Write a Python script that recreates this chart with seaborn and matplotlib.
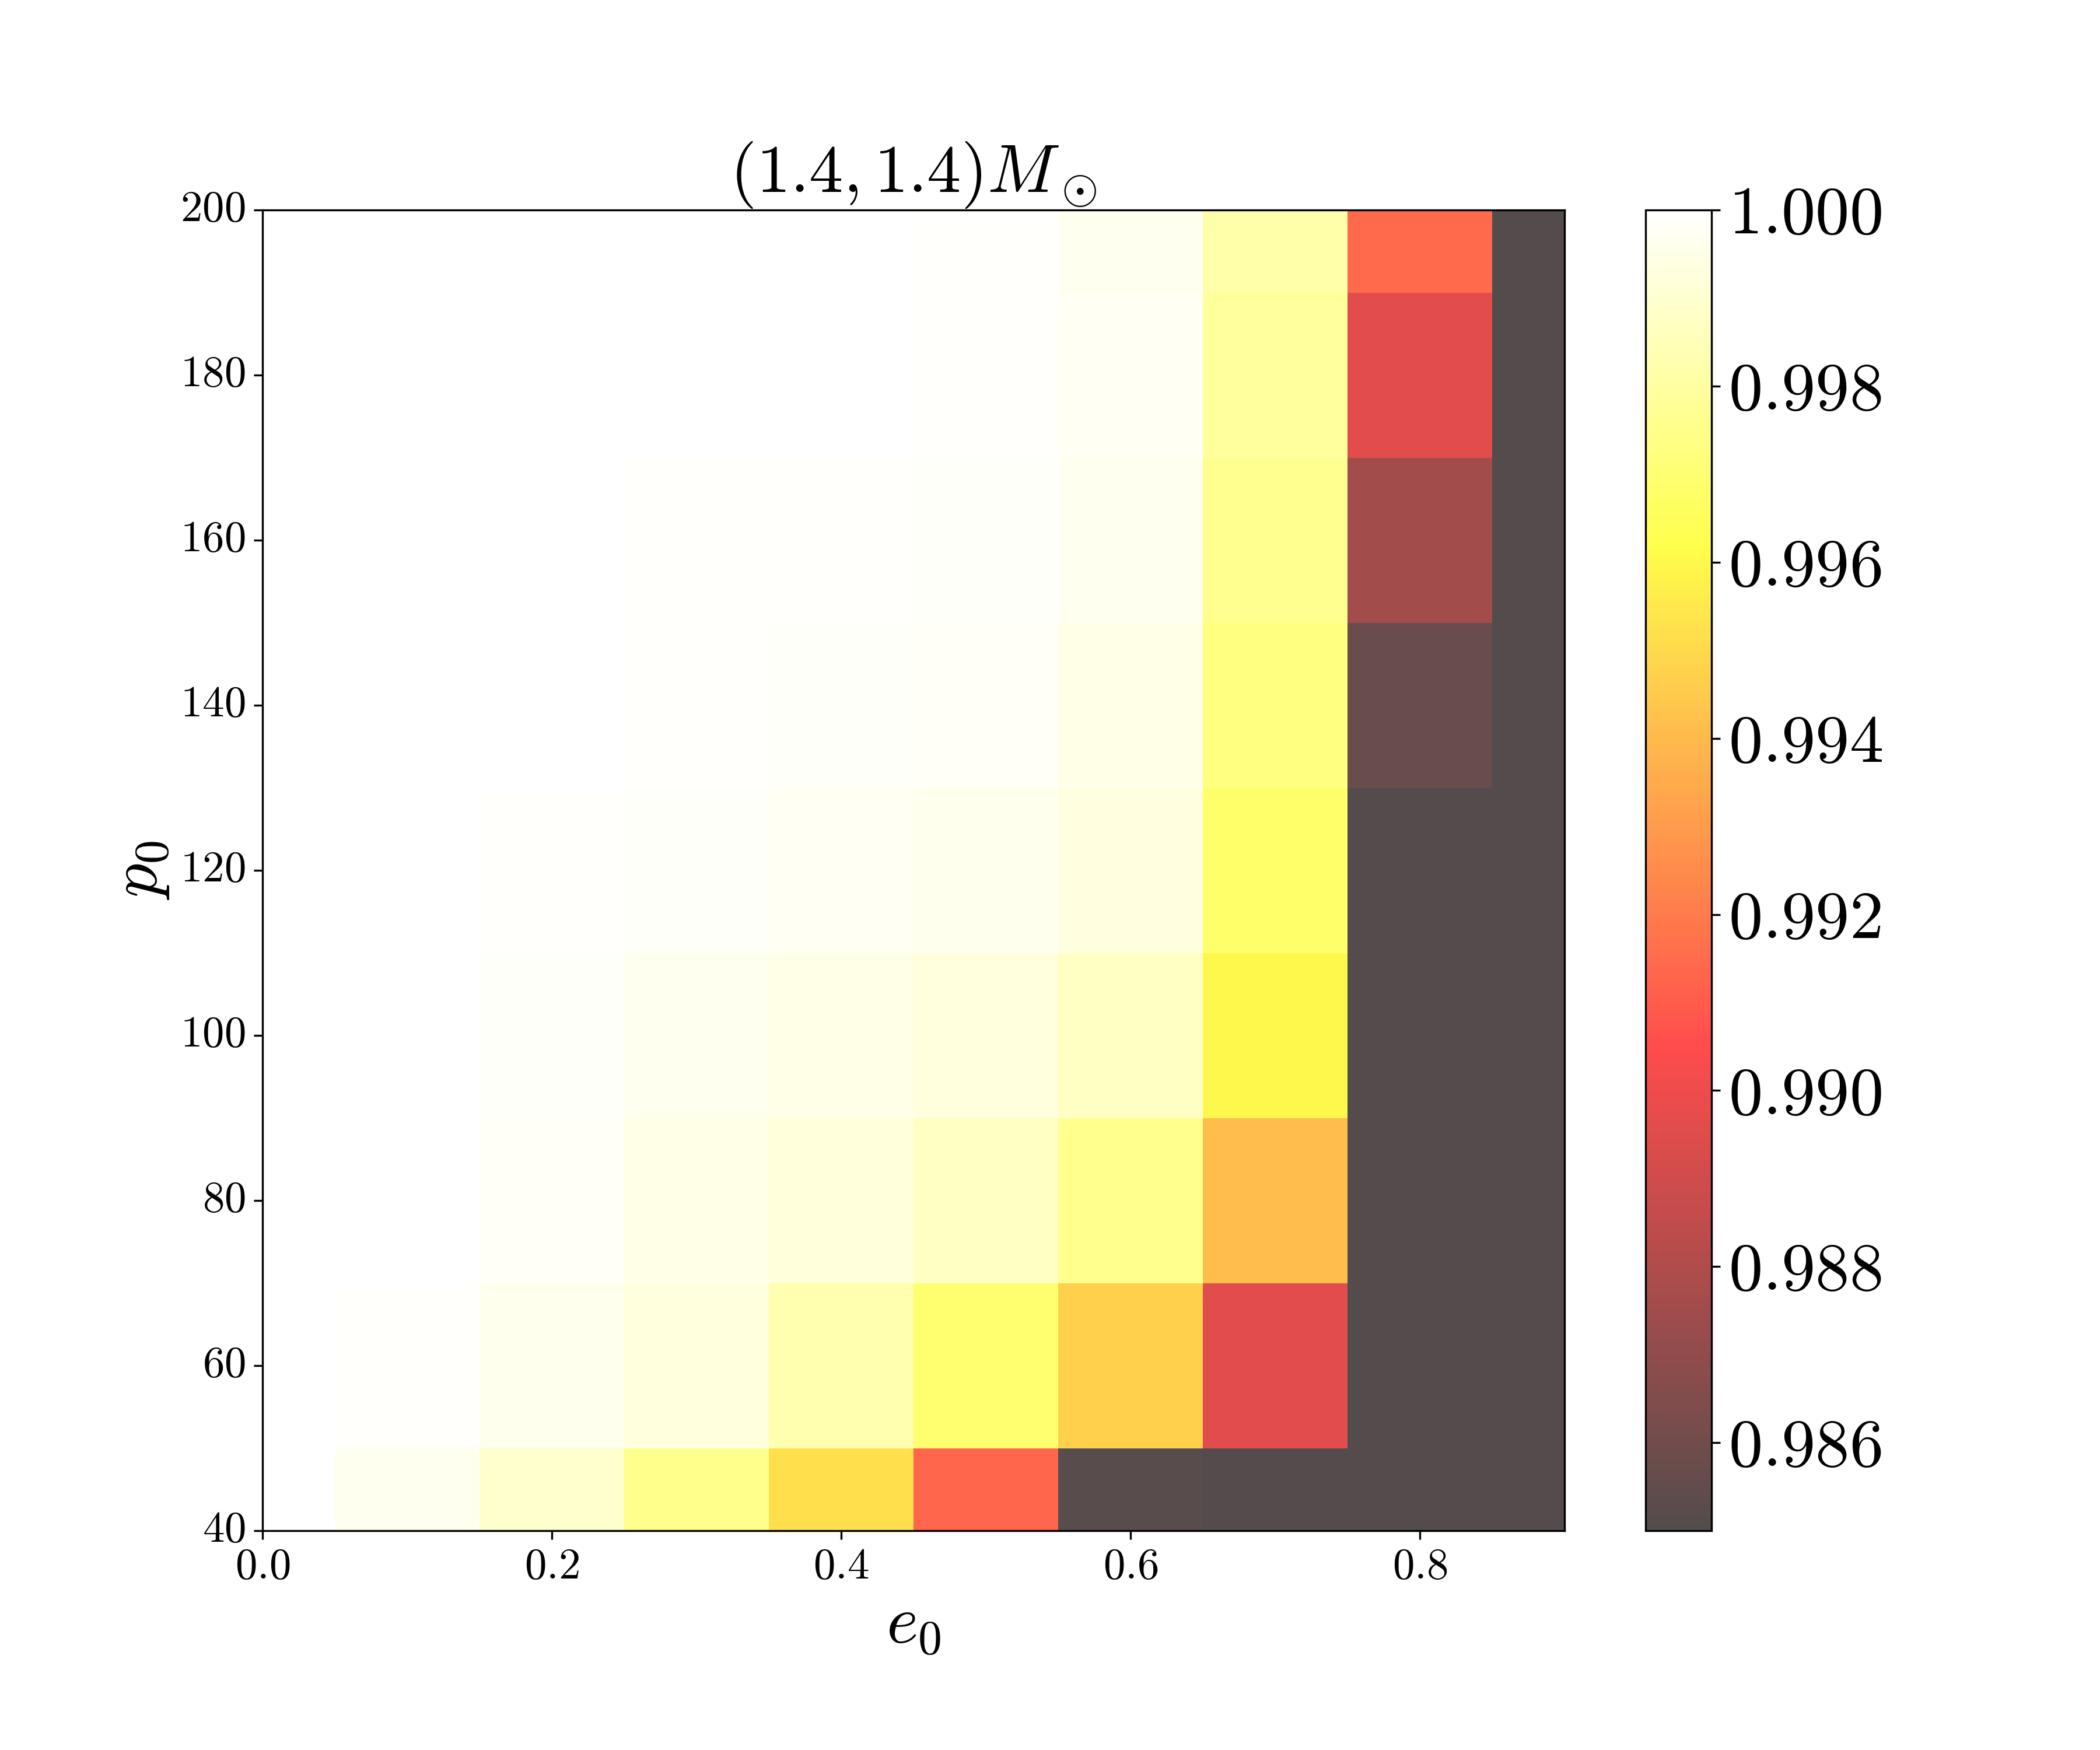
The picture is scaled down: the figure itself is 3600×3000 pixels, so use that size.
import numpy as np
import pandas as pd
import matplotlib
matplotlib.use("Agg")
import matplotlib.pyplot as plt
import seaborn as sns

# grid of initial eccentricity / semi-latus rectum
e0 = [0.0, 0.1, 0.2, 0.3, 0.4, 0.5, 0.6, 0.7, 0.8, 0.9]
p0 = [40, 60, 80, 100, 120, 140, 160, 180, 200]

# match values per p0 row (values below 0.985 saturate to the darkest colour)
match_p40 = [1.0, 0.99970, 0.99890, 0.99750, 0.99520, 0.99130, 0.98522, 0.9800, 0.9800, 0.9800]
match_p60 = [1.0, 0.99990, 0.99960, 0.99925, 0.99830, 0.99690, 0.99469, 0.98958, 0.9800, 0.9800]
match_p80 = [1.0, 0.99998, 0.99980, 0.99950, 0.99918, 0.99876, 0.99755, 0.99414, 0.9800, 0.9800]
match_p100 = [1.0, 0.99996, 0.99985, 0.99970, 0.99950, 0.99925, 0.99876, 0.99600, 0.9800, 0.9800]
match_p120 = [1.0, 0.99998, 0.99990, 0.99985, 0.99975, 0.99960, 0.99930, 0.99682, 0.9800, 0.9800]
match_p140 = [1.0, 1.0, 0.99998, 0.99990, 0.99988, 0.99980, 0.99950, 0.99730, 0.98574, 0.9800]
match_p160 = [1.0, 1.0, 0.99999, 0.99993, 0.99990, 0.99985, 0.99970, 0.99763, 0.98753, 0.9800]
match_p180 = [1.0, 1.0, 1.0, 0.99998, 0.99995, 0.99990, 0.99972, 0.99788, 0.98958, 0.9800]
match_p200 = [1.0, 1.0, 1.0, 1.0, 0.99998, 0.99990, 0.99970, 0.99818, 0.99140, 0.9800]

cbar_ticks = [0.986, 0.988, 0.990, 0.992, 0.994, 0.996, 0.998, 1.000]

df = pd.DataFrame(
    [match_p40, match_p60, match_p80, match_p100, match_p120,
     match_p140, match_p160, match_p180, match_p200],
    index=p0, columns=e0,
)

plt.rcParams["mathtext.fontset"] = "cm"
plt.rcParams["font.family"] = "serif"
plt.rcParams["font.serif"] = ["cmr10", "DejaVu Serif"]
plt.rcParams["axes.formatter.use_mathtext"] = True

fig = plt.figure(figsize=(12, 10), dpi=300)
ax = fig.add_axes([0.125, 0.1253, 0.62, 0.7547])
cax = fig.add_axes([0.7837, 0.1253, 0.0312, 0.7547])

sns.heatmap(df, ax=ax, cbar_ax=cax, cmap="hot", vmin=0.985, vmax=1.0,
            alpha=0.7, linewidths=0, cbar_kws={"ticks": cbar_ticks})

# continuous-looking axes: clip to the centres of the outer cells
ax.set_xlim(0.5, len(e0) - 0.5)
ax.set_ylim(0.5, len(p0) - 0.5)
for s in ax.spines.values():
    s.set_visible(True)
    s.set_linewidth(0.8)
    s.set_color("black")

xt = [i for i, e in enumerate(e0) if i % 2 == 0 and i < len(e0) - 1]
ax.set_xticks([i + 0.5 for i in xt])
ax.set_xticklabels([f"${e0[i]:.1f}$" for i in xt], rotation=0)
ax.set_yticks([i + 0.5 for i in range(len(p0))])
ax.set_yticklabels([f"${p}$" for p in p0], rotation=0)
ax.tick_params(axis="both", labelsize=18, length=3.5, width=0.8, direction="out")

ax.set_xlabel(r"$e_0$", fontsize=28)
ax.set_ylabel(r"$p_0$", fontsize=28)
ax.set_title(r"$(1.4, 1.4)M_\odot$", fontsize=28)

cb = ax.collections[0].colorbar
cb.outline.set_visible(True)
cb.outline.set_linewidth(0.8)
cb.outline.set_edgecolor("black")
cb.ax.set_yticks(cbar_ticks)
cb.ax.set_yticklabels([f"${t:.3f}$" for t in cbar_ticks])
cb.ax.tick_params(labelsize=28, length=3.5, width=0.8)

fig.savefig("out.png", dpi=300)
